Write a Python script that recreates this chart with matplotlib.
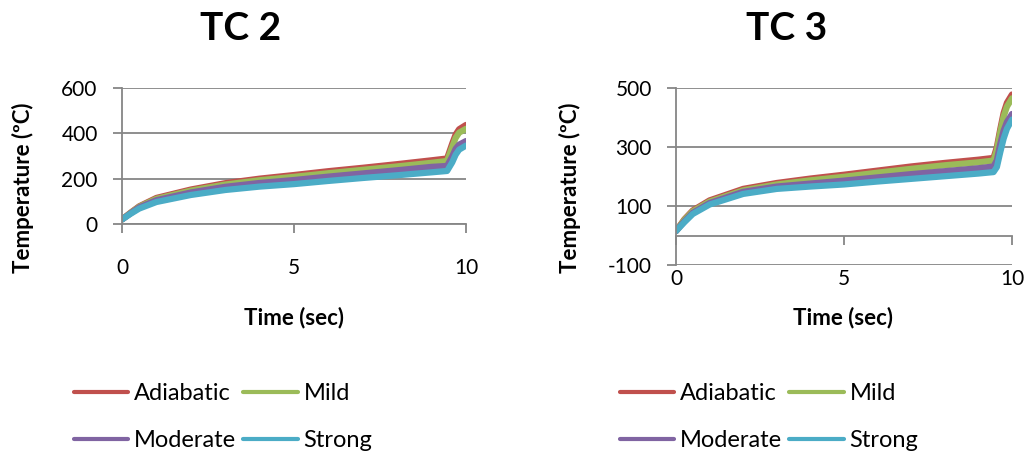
import matplotlib
matplotlib.use('Agg')
import matplotlib.pyplot as plt

plt.rcParams['font.family'] = ['Lato', 'DejaVu Sans']
plt.rcParams['axes.unicode_minus'] = False

# Данные
series_names = ['Adiabatic', 'Mild', 'Moderate', 'Strong']
colors = ['#C0504D', '#9BBB59', '#8064A2', '#4BACC6']

tc2_time = [0, 0.25, 0.5, 1, 2, 3, 4, 5, 6, 7, 8, 9, 9.45, 9.6, 9.7, 9.8, 10]
tc2_adiabatic = [20, 50, 78, 115, 152, 180, 200, 216, 233, 248, 264, 281, 289, 355, 395, 418, 437]
tc2_mild = [20, 49, 76, 111, 147, 174, 193, 208, 224, 239, 254, 270, 278, 340, 380, 403, 420]
tc2_moderate = [20, 47, 73, 105, 139, 164, 181, 194, 209, 223, 237, 252, 256, 298, 332, 350, 366]
tc2_strong = [20, 45, 68, 97, 128, 150, 165, 176, 190, 203, 215, 228, 234, 272, 306, 328, 346]

tc3_time = [0, 0.25, 0.5, 1, 2, 3, 4, 5, 6, 7, 8, 9, 9.45, 9.55, 9.65, 9.75, 9.85, 10]
tc3_adiabatic = [15, 55, 85, 119, 158, 178, 193, 206, 220, 234, 246, 257, 263, 300, 360, 415, 450, 478]
tc3_mild = [15, 53, 82, 115, 153, 173, 187, 199, 213, 226, 238, 248, 254, 290, 350, 403, 437, 465]
tc3_moderate = [15, 48, 77, 110, 148, 166, 176, 186, 197, 208, 218, 228, 234, 255, 310, 355, 385, 412]
tc3_strong = [15, 45, 73, 105, 141, 158, 166, 173, 183, 192, 201, 210, 215, 232, 282, 328, 362, 393]

tc2_yticks = [0, 200, 400, 600]
tc3_yticks = [-100, 100, 300, 500]
xticks = [0, 5, 10]

W, H = 1030, 455
GRAY = '#868686'

fig = plt.figure(figsize=(W / 100, H / 100), dpi=100)


def px(x0, y0, x1, y1):
    return [x0 / W, 1 - y1 / H, (x1 - x0) / W, (y1 - y0) / H]


def style_axes(ax, yticks):
    ax.set_xlim(0, 10)
    ax.set_ylim(yticks[0], yticks[-1])
    ax.set_yticks(yticks)
    ax.set_xticks(xticks)
    ax.grid(axis='y', color=GRAY, linewidth=1.3)
    ax.set_axisbelow(True)
    for s in ['top', 'right']:
        ax.spines[s].set_visible(False)
    for s in ['left', 'bottom']:
        ax.spines[s].set_color(GRAY)
        ax.spines[s].set_linewidth(1.3)
    ax.tick_params(axis='y', direction='out', length=6.5, width=1.3, color=GRAY,
                   labelsize=15, pad=11)
    ax.tick_params(axis='x', direction='out', length=6.5, width=1.3, color=GRAY,
                   labelsize=15)


# TC 2
ax1 = fig.add_axes(px(122, 88, 466, 224))
for vals, c, name in zip([tc2_adiabatic, tc2_mild, tc2_moderate, tc2_strong], colors, series_names):
    ax1.plot(tc2_time, vals, color=c, linewidth=4.5, label=name, solid_capstyle='round')
style_axes(ax1, tc2_yticks)
ax1.tick_params(axis='x', pad=18)

# TC 3
ax2 = fig.add_axes(px(676, 88, 1012, 265))
for vals, c, name in zip([tc3_adiabatic, tc3_mild, tc3_moderate, tc3_strong], colors, series_names):
    ax2.plot(tc3_time, vals, color=c, linewidth=4.5, label=name, solid_capstyle='round')
style_axes(ax2, tc3_yticks)
ax2.spines['bottom'].set_position(('data', 0))
ax2.tick_params(axis='x', labelbottom=False)
sec = ax2.secondary_xaxis('bottom')
sec.spines['bottom'].set_visible(False)
sec.set_xticks(xticks)
sec.tick_params(axis='x', length=0, labelsize=15, pad=3)

# Подписи
fig.text(241 / W, 1 - 28 / H, 'TC 2', ha='center', va='center', fontsize=28, fontweight='bold')
fig.text(787 / W, 1 - 28 / H, 'TC 3', ha='center', va='center', fontsize=28, fontweight='bold')
for xc in [23, 570]:
    fig.text(xc / W, 1 - 188 / H, 'Temperature (ºC)', rotation=90, ha='center', va='center',
             fontsize=16, fontweight='bold')
for xc in [294, 843]:
    fig.text(xc / W, 1 - 318 / H, 'Time (sec)', ha='center', va='center',
             fontsize=16, fontweight='bold')

# легенда по строкам: Adiabatic, Mild / Moderate, Strong
order = [0, 2, 1, 3]
for xl, ax in [(74, ax1), (620, ax2)]:
    h, l = ax.get_legend_handles_labels()
    leg = fig.legend([h[i] for i in order], [l[i] for i in order], loc='upper left',
                     bbox_to_anchor=(xl / W, 1 - 383 / H),
                     ncol=2, frameon=False, fontsize=17, handlelength=2.3,
                     handletextpad=0.25, columnspacing=0.3, labelspacing=1.1,
                     borderpad=0, borderaxespad=0)
    for line in leg.get_lines():
        line.set_linewidth(3)

plt.savefig('out.png', dpi=100)
plt.close()
